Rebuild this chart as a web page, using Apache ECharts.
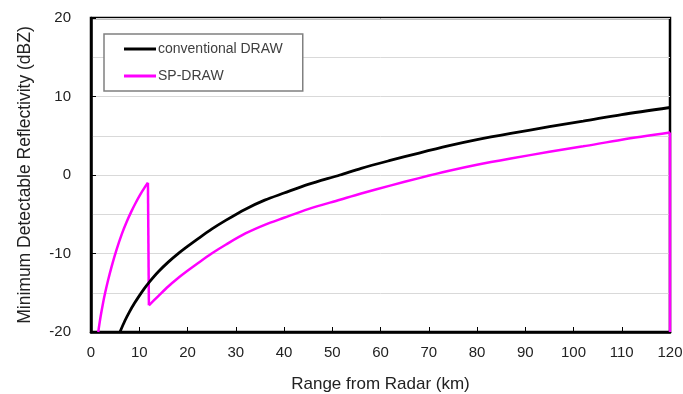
<!DOCTYPE html>
<html><head><meta charset="utf-8">
<script src="https://cdn.jsdelivr.net/npm/echarts@6/dist/echarts.min.js"></script>
<style>html,body{margin:0;padding:0;background:#fff}#c{width:683px;height:394px}</style>
</head><body><div id="c"></div>
<script>
const seriesNames = ['conventional DRAW', 'SP-DRAW'];
const xTicks = [0,10,20,30,40,50,60,70,80,90,100,110,120];
const yTicks = [-20,-10,0,10,20];
// conventional DRAW: [range km, dBZ]
const conventional = [
  [6,-20],[7,-18.6],[8,-17.4],[9,-16.35],[10,-15.4],[11,-14.5],[12,-13.7],[14,-12.3],
  [16,-11.1],[18,-10.05],[20,-9.1],[22,-8.2],[25,-6.9],[28,-5.75],[32,-4.35],[36,-3.2],
  [40,-2.3],[45,-1.2],[51.6,0],[56,0.85],[62,1.85],[68,2.8],[74,3.7],[80,4.5],[87,5.3],
  [95,6.15],[102,6.85],[110,7.7],[120,8.6]
];
// SP-DRAW, short-range part: [range km, dBZ]
const spNear = [
  [1.5,-20],[2,-18.0],[2.5,-16.3],[2.9,-15.1],[3.5,-13.5],[4.3,-11.6],[5.3,-9.5],[6.4,-7.5],
  [7.4,-5.95],[8.4,-4.6],[9.3,-3.5],[10.2,-2.5],[11,-1.7],[11.8,-1.0]
];
// SP-DRAW, switch-over drop at ~12 km
const spDrop = [[11.8,-1.0],[12.0,-16.6]];
// SP-DRAW, long-range part
const spFar = [
  [12,-16.6],[14,-15.4],[16,-14.2],[18,-13.15],[20,-12.2],[22,-11.3],[25,-10.0],[28,-8.85],
  [32,-7.45],[36,-6.35],[40,-5.45],[45,-4.35],[51.6,-3.15],[56,-2.35],[62,-1.35],[68,-0.4],
  [74,0.5],[80,1.3],[87,2.1],[95,2.95],[102,3.65],[110,4.5],[120,5.4]
];
// SP-DRAW, end at maximum range
const spEnd = [[120,5.4],[120,-20]];

const chart = echarts.init(document.getElementById('c'), null, {renderer:'canvas'});
const font = 'Liberation Sans, Arial, sans-serif';
const magenta = {name: seriesNames[1], type: 'line', showSymbol: false,
  lineStyle: {color: '#ff00ff', width: 2.5}, itemStyle: {color: '#ff00ff'}, z: 2};
chart.setOption({
  animation: false,
  backgroundColor: '#fff',
  grid: {left: 91, right: 13, top: 18, bottom: 62, show: true, borderColor: '#000', borderWidth: 2.5,
         backgroundColor: 'transparent', containLabel: false, outerBoundsMode: 'none'},
  legend: {
    data: seriesNames,
    orient: 'vertical',
    left: 104, top: 34,
    itemWidth: 32, itemHeight: 3, itemGap: 13,
    icon: 'rect',
    padding: [8, 20, 8, 20],
    borderColor: '#808080', borderWidth: 1.5,
    backgroundColor: '#fff',
    textStyle: {fontFamily: font, fontSize: 14, color: '#404040', padding: [0,0,0,-3]}
  },
  xAxis: {
    type: 'value', min: xTicks[0], max: xTicks[xTicks.length-1], interval: 10,
    name: 'Range from Radar (km)', nameLocation: 'middle', nameGap: 44,
    nameTextStyle: {fontFamily: font, fontSize: 17, color: '#222'},
    axisLine: {show: true, onZero: false, lineStyle: {color: '#000', width: 2.5}},
    axisTick: {show: true, inside: true, length: 5, lineStyle: {color: '#000', width: 1}},
    axisLabel: {fontFamily: font, fontSize: 15, color: '#222', margin: 13},
    splitLine: {show: false}
  },
  yAxis: {
    type: 'value', min: yTicks[0], max: yTicks[yTicks.length-1], interval: 10,
    name: 'Minimum Detectable Reflectivity (dBZ)', nameLocation: 'middle', nameGap: 57,
    nameTextStyle: {fontFamily: font, fontSize: 17.5, color: '#222'},
    axisLine: {show: true, onZero: false, lineStyle: {color: '#000', width: 2.5}},
    axisTick: {show: true, inside: true, length: 5, lineStyle: {color: '#000', width: 1}},
    axisLabel: {fontFamily: font, fontSize: 15, color: '#222', margin: 20},
    splitLine: {show: true, lineStyle: {color: '#d9d9d9', width: 1}},
    minorTick: {show: false, splitNumber: 2},
    minorSplitLine: {show: true, lineStyle: {color: '#d9d9d9', width: 1}}
  },
  series: [
    {name: seriesNames[0], type: 'line', data: conventional, showSymbol: false, smooth: 0.3,
     lineStyle: {color: '#000', width: 2.8}, itemStyle: {color: '#000'}, z: 3},
    Object.assign({}, magenta, {data: spNear, smooth: 0.3}),
    Object.assign({}, magenta, {data: spDrop, smooth: false}),
    Object.assign({}, magenta, {data: spFar, smooth: 0.3}),
    Object.assign({}, magenta, {data: spEnd, smooth: false})
  ]
});
</script></body></html>
